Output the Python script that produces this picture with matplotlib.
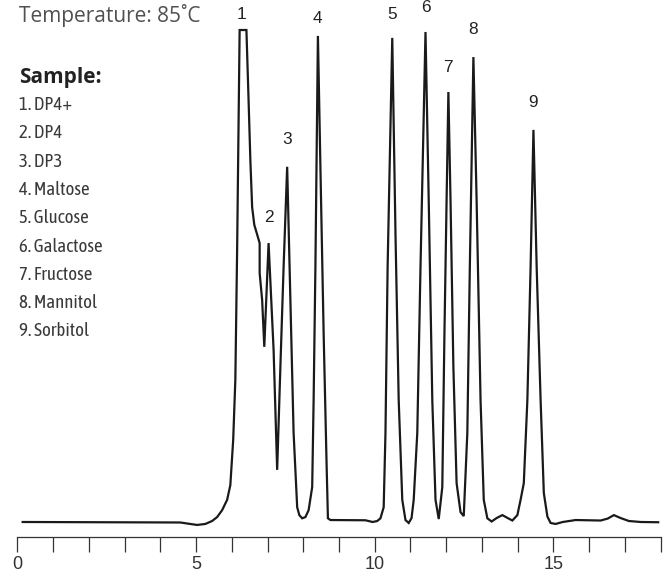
import numpy as np
import matplotlib
matplotlib.use("Agg")
import matplotlib.pyplot as plt

# Chromatogram trace (retention time in min, detector signal in %)
time = [0.15, 4.56, 4.84, 5.03, 5.26, 5.45, 5.59, 5.73, 5.87, 5.96, 6.04, 6.10, 6.15,
        6.22, 6.41, 6.47, 6.52, 6.57, 6.63, 6.78, 6.78, 6.85, 6.91, 7.03, 7.17, 7.27,
        7.36, 7.45, 7.55, 7.64, 7.73, 7.83, 7.89, 7.97, 8.06, 8.15, 8.25, 8.29, 8.34,
        8.41, 8.48, 8.57, 8.65, 8.69, 8.76, 9.74, 9.94, 10.07, 10.16, 10.25, 10.30,
        10.36, 10.49, 10.58, 10.67, 10.77, 10.86, 10.95, 11.03, 11.09, 11.19, 11.28,
        11.42, 11.51, 11.61, 11.70, 11.79, 11.89, 11.95, 12.01, 12.06, 12.12, 12.20,
        12.29, 12.40, 12.49, 12.59, 12.66, 12.76, 12.85, 12.96, 13.05, 13.15, 13.27,
        13.41, 13.57, 13.72, 13.85, 13.99, 14.08, 14.17, 14.27, 14.36, 14.44, 14.53,
        14.64, 14.73, 14.83, 14.92, 15.06, 15.26, 15.62, 16.32, 16.52, 16.69, 16.88,
        17.11, 17.44, 17.93]
signal = [0.0, -0.1, -0.4, -0.6, -0.4, 0.2, 1.0, 2.4, 4.5, 7.5, 16.7, 28.9, 55.3,
          100.0, 100.0, 85.8, 73.6, 64.0, 60.4, 56.7, 50.6, 45.1, 35.6, 56.7, 35.0, 10.6,
          31.5, 51.8, 72.2, 45.1, 18.1, 3.0, 1.4, 0.75, 1.0, 2.4, 7.1, 24.8, 51.8,
          98.8, 72.2, 38.4, 12.6, 0.75, 0.4, 0.35, 0.0, 0.2, 0.75, 3.0, 18.1,
          51.8, 98.4, 58.7, 24.8, 4.5, 0.4, -0.2, 0.8, 4.5, 18.1, 51.8,
          99.6, 65.4, 24.8, 4.5, 0.6, 7.1, 38.4, 65.4, 87.4, 65.4, 31.5,
          7.9, 2.0, 1.2, 18.1, 51.8, 94.5, 65.4, 24.8, 4.5, 0.75, 0.1,
          0.8, 1.4, 0.8, 0.3, 1.4, 4.5, 7.9, 24.8, 51.8, 79.7, 51.8,
          24.8, 5.9, 1.1, -0.2, -0.4, 0.0, 0.4, 0.3, 0.7, 1.4, 0.8,
          0.2, 0.0, -0.05]

peak_ids = ["1", "2", "3", "4", "5", "6", "7", "8", "9"]
peak_times = [6.26, 7.03, 7.55, 8.41, 10.49, 11.42, 12.06, 12.76, 14.44]
compounds = ["DP4+", "DP4", "DP3", "Maltose", "Glucose", "Galactose",
             "Fructose", "Mannitol", "Sorbitol"]
x_ticks = list(range(0, 19))
x_labels = ["0", "", "", "", "", "5", "", "", "", "", "10", "", "", "", "", "15", "", "", ""]

W, H = 665, 575
fig = plt.figure(figsize=(W / 100, H / 100), dpi=100)

# axes placed so that 0..18 min spans the ruler, baseline sits just above it
ax = fig.add_axes([17.3 / W, (H - 537) / H, (660.7 - 17.3) / W, 537 / H])
ax.plot(time, signal, color="#1a1a1a", lw=1.6, solid_joinstyle="miter")
ax.set_xlim(0, 18)
ax.set_ylim(-3.05, 106.1)

for side in ["top", "right", "left"]:
    ax.spines[side].set_visible(False)
ax.spines["bottom"].set_color("#333333")
ax.spines["bottom"].set_linewidth(0.9)
ax.set_yticks([])
ax.set_xticks(x_ticks)
ax.set_xticklabels(x_labels, family=["Liberation Sans", "DejaVu Sans"])
ax.tick_params(axis="x", direction="out", length=11, width=0.9, color="#333333",
               labelsize=13, labelcolor="#333333", pad=3)

# peak numbers above each peak (pixel offsets, hand-placed in the original)
label_dy = [16, 26, 27, 17, 23, 24, 25, 28, 27]
peak_heights = np.interp(peak_times, time, signal)
for pid, t, h, dy in zip(peak_ids, peak_times, peak_heights, label_dy):
    ax.annotate(pid, (t, h), xytext=(0, dy), textcoords="offset pixels",
                ha="center", va="center", fontsize=12.4, color="#222222",
                family=["Liberation Sans", "DejaVu Sans"], annotation_clip=False)


def fpos(x, y):
    return x / W, 1 - y / H


fig.text(*fpos(19, 21.7), "Temperature: 85˚C", fontsize=15, color="#505050",
         family=["Open Sans", "DejaVu Sans"], va="baseline")
fig.text(*fpos(19, 83.3), "Sample:", fontsize=15, fontweight="bold", color="#222222",
         family=["Open Sans", "DejaVu Sans"], va="baseline")
for i, name in enumerate(compounds):
    fig.text(*fpos(19, 110 + i * 28.3), f"{i + 1}. {name}", fontsize=13.5,
             color="#3a3a3a", va="baseline",
             family=["Asap Condensed", "DejaVu Sans"])

fig.savefig("out.png", dpi=100)
